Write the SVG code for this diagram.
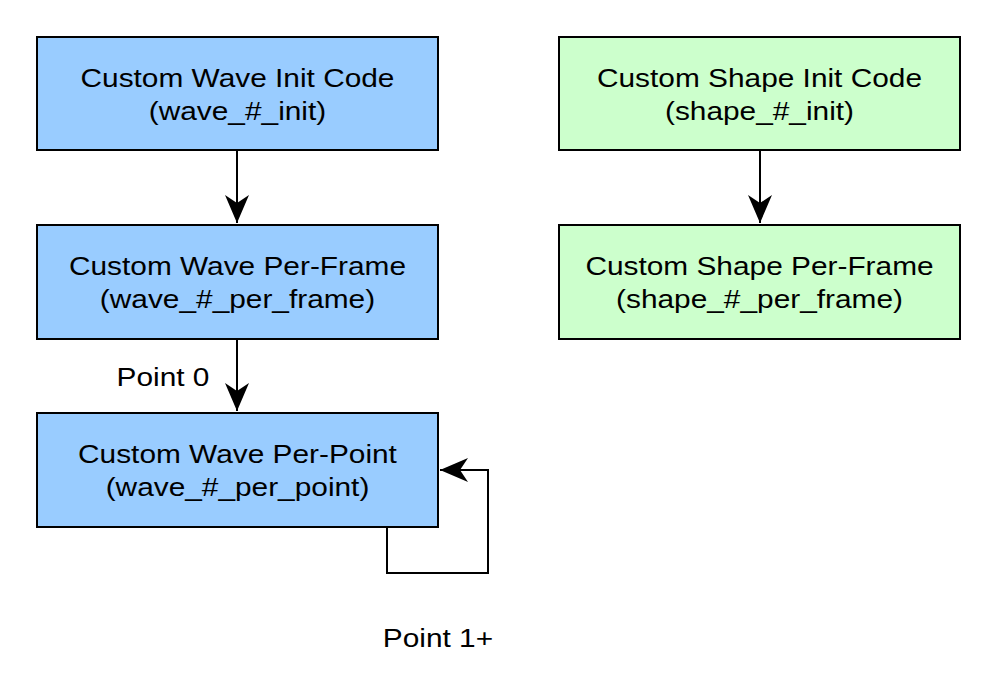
<svg xmlns="http://www.w3.org/2000/svg" width="1000" height="698" viewBox="0 0 1000 698">
<defs>
<style>
.box{stroke:#000;stroke-width:2}
.blue{fill:#99CCFF}
.green{fill:#CCFFCC}
text{font-family:"Liberation Sans",Arial,sans-serif;font-size:25.5px;fill:#000;transform-box:fill-box;transform-origin:center;transform:scaleX(1.17)}
.c{text-anchor:middle}
.edge{fill:none;stroke:#000;stroke-width:2}
</style>
<marker id="arr" markerUnits="userSpaceOnUse" viewBox="0 0 28 24" refX="28" refY="12" markerWidth="28" markerHeight="24" orient="auto">
<path d="M0,0 L28,12 L0,24 L8,12 Z" fill="#000"/>
</marker>
</defs>
<rect width="1000" height="698" fill="#fff"/>
<g id="connectors">
<path class="edge" d="M237,150 V223" marker-end="url(#arr)"/>
<path class="edge" d="M237,339 V411" marker-end="url(#arr)"/>
<path class="edge" d="M760,150 V223" marker-end="url(#arr)"/>
<path class="edge" d="M387,527 V573 H488 V470 H440" marker-end="url(#arr)"/>
<text x="163" y="386" class="c">Point 0</text>
<text x="438" y="647" class="c">Point 1+</text>
</g>
<g id="wave-init">
<rect class="box blue" x="37" y="37" width="401" height="113"/>
<text x="237.5" y="87" class="c">Custom Wave Init Code</text>
<text x="237.5" y="120" class="c">(wave_#_init)</text>
</g>
<g id="wave-per-frame">
<rect class="box blue" x="37" y="225" width="401" height="114"/>
<text x="237.5" y="275" class="c">Custom Wave Per-Frame</text>
<text x="237.5" y="308" class="c">(wave_#_per_frame)</text>
</g>
<g id="wave-per-point">
<rect class="box blue" x="37" y="413" width="401" height="114"/>
<text x="237.5" y="463" class="c">Custom Wave Per-Point</text>
<text x="237.5" y="496" class="c">(wave_#_per_point)</text>
</g>
<g id="shape-init">
<rect class="box green" x="559" y="37" width="401" height="113"/>
<text x="759.5" y="87" class="c">Custom Shape Init Code</text>
<text x="759.5" y="120" class="c">(shape_#_init)</text>
</g>
<g id="shape-per-frame">
<rect class="box green" x="559" y="225" width="401" height="114"/>
<text x="759.5" y="275" class="c">Custom Shape Per-Frame</text>
<text x="759.5" y="308" class="c">(shape_#_per_frame)</text>
</g>
</svg>
